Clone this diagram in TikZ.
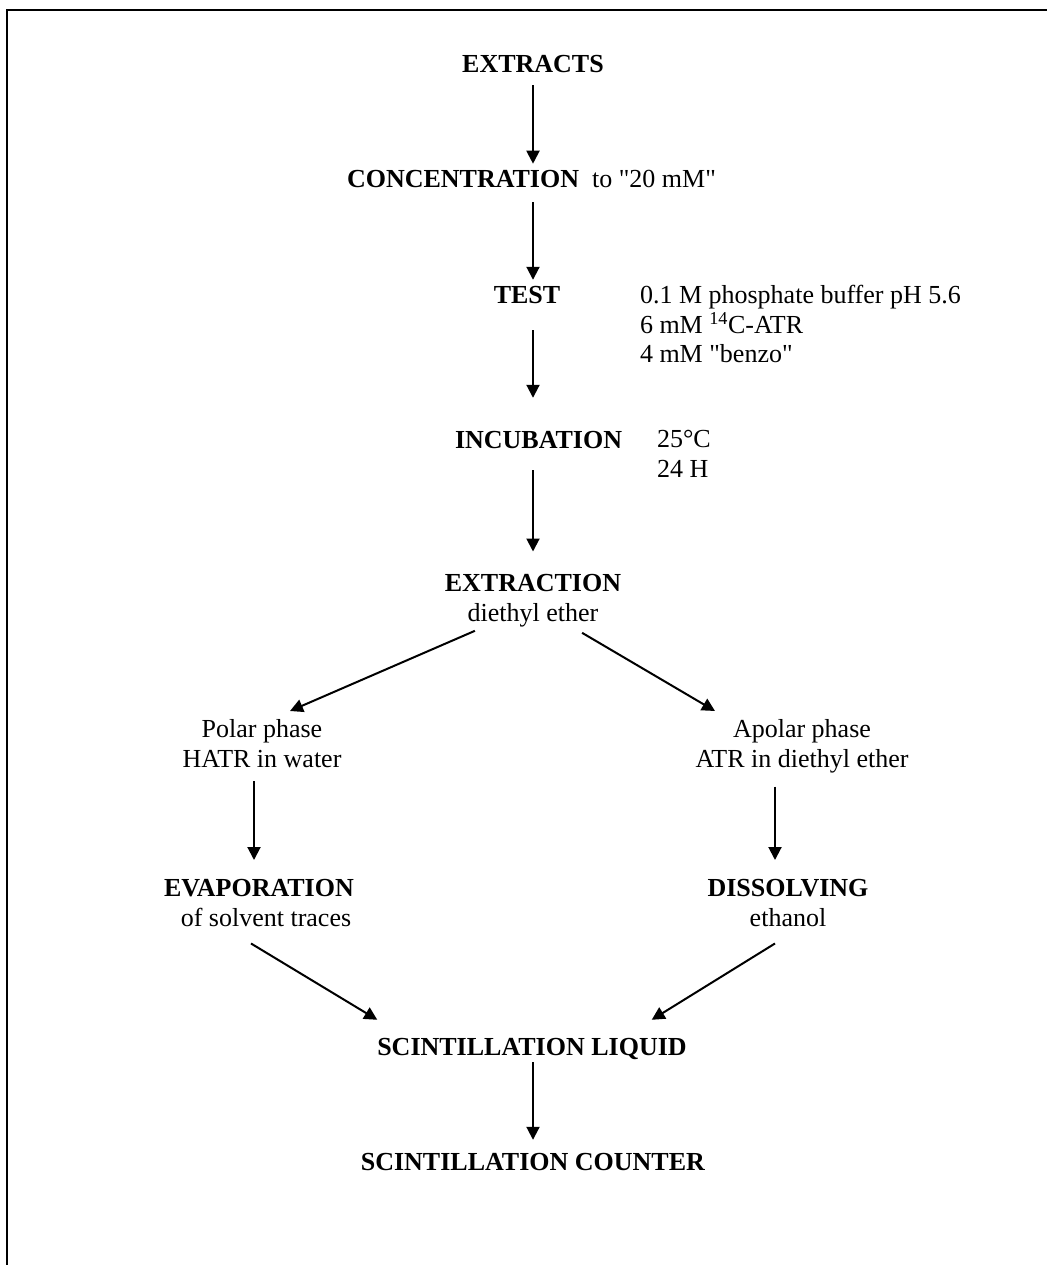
\documentclass[tikz,border=0pt]{standalone}
\usepackage{fontspec}
\setmainfont{Liberation Serif}[Ligatures=TeXOff]
\usetikzlibrary{arrows.meta}
\begin{document}
\begin{tikzpicture}[x=1pt,y=-1pt,
  txt/.style={inner sep=0pt,outer sep=0pt,font=\fontsize{26}{29.5}\selectfont},
  one/.style={txt,anchor=base},
  multi/.style={txt,anchor=north,align=center},
  arr/.style={line width=2pt,-{Triangle[length=13pt,width=13pt]}},
  frame/.style={line width=2pt}]
\useasboundingbox (0,0) rectangle (1047,1265);
\draw[frame] (7,1265) -- (7,10) -- (1047,10);

% main column nodes
\node[one] (extracts) at (533,73) {\textbf{EXTRACTS}};
\node[one,anchor=base west] (conc) at (347,188) {\textbf{CONCENTRATION}\ \ to "20 mM"};
\node[one] (test) at (527,303) {\textbf{TEST}};
\node[multi,anchor=north west,align=left] (testcond) at (640,285.5)
  {0.1 M phosphate buffer pH 5.6\\6 mM \textsuperscript{14}C-ATR\\4 mM "benzo"};
\node[one,anchor=base west] (incub) at (455,448) {\textbf{INCUBATION}};
\node[multi,anchor=north west,align=left] (incubcond) at (657,430.5) {25°C\\24 H};
\node[multi] (extraction) at (533,574.5) {\textbf{EXTRACTION}\\diethyl ether};
\node[multi] (polar) at (262,719.5) {Polar phase\\HATR in water};
\node[multi] (apolar) at (802,719.5) {Apolar phase\\ATR in diethyl ether};
\node[multi] (evap) at (259,879.5) {\textbf{EVAPORATION}\\\hspace*{14pt}of solvent traces};
\node[multi] (dissolv) at (788,879.5) {\textbf{DISSOLVING}\\ethanol};
\node[one] (liquid) at (532,1055) {\textbf{SCINTILLATION LIQUID}};
\node[one] (counter) at (533,1170) {\textbf{SCINTILLATION COUNTER}};

\coordinate (col) at (533,0);
\coordinate (lcol) at (254,0);
\coordinate (rcol) at (775,0);

% vertical arrows, main column
\draw[arr,shorten <=12pt,shorten >=7pt] (col |- extracts.south) -- (col |- conc.north);
\draw[arr,shorten <=14pt,shorten >=6pt] (col |- conc.south) -- (col |- test.north);
\draw[arr,shorten <=27pt,shorten >=33pt] (col |- test.south) -- (col |- incub.north);
\draw[arr,shorten <=22pt,shorten >=23pt] (col |- incub.south) -- (col |- extraction.north);

% split
\coordinate (exl) at ([xshift=30pt,yshift=-4pt]extraction.south west);
\coordinate (exr) at ([xshift=-39pt,yshift=-6pt]extraction.south east);
\draw[arr] (exl) -- ([xshift=28pt,yshift=8.5pt]polar.north);
\draw[arr] (exr) -- ([xshift=-87pt,yshift=8.5pt]apolar.north);

% branch verticals
\draw[arr,shorten <=14pt,shorten >=19.5pt] (lcol |- polar.south) -- (lcol |- evap.north);
\draw[arr,shorten <=14pt,shorten >=19.5pt] (rcol |- apolar.south) -- (rcol |- dissolv.north);

% merge
\coordinate (evs) at ([xshift=-8pt,yshift=-17pt]evap.south);
\coordinate (dis) at ([xshift=-13pt,yshift=-17pt]dissolv.south);
\draw[arr] (evs) -- ([yshift=18pt]liquid.north west);
\draw[arr] (dis) -- ([xshift=-35pt,yshift=18pt]liquid.north east);

\draw[arr,shorten <=3pt,shorten >=13pt] (col |- liquid.south) -- (col |- counter.north);
\end{tikzpicture}
\end{document}
